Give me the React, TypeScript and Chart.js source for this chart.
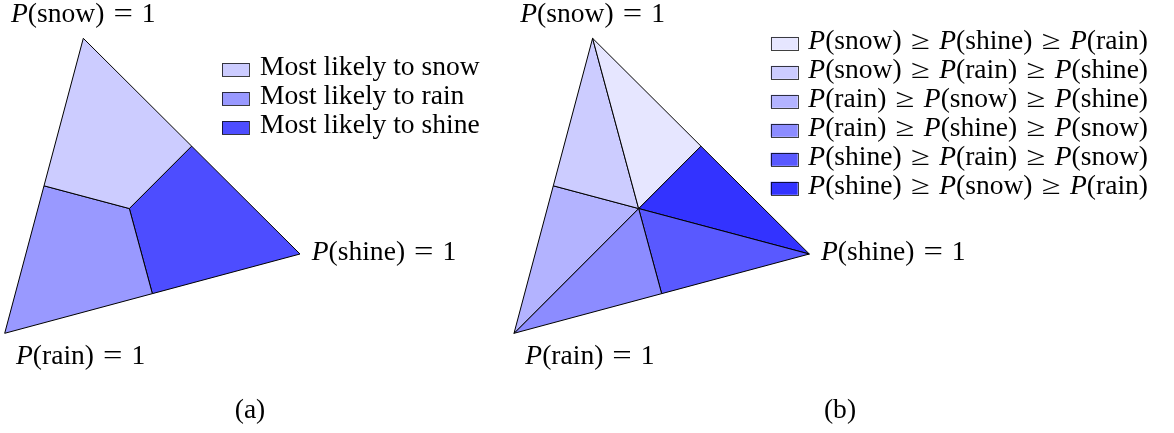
import React, { useEffect, useRef } from 'react';
import { Chart, registerables } from 'chart.js';

Chart.register(...registerables);

// Outcomes of the weather forecast; a point of the simplex is (P(snow), P(rain), P(shine)).
const outcomes = ['snow', 'rain', 'shine'];

// Barycentric corners used by the regions.
const cornerSnow = [1, 0, 0];
const cornerRain = [0, 1, 0];
const cornerShine = [0, 0, 1];
const midSnowShine = [1 / 2, 0, 1 / 2];
const midSnowRain = [1 / 2, 1 / 2, 0];
const midRainShine = [0, 1 / 2, 1 / 2];
const centre = [1 / 3, 1 / 3, 1 / 3];

// (a) regions of the most likely outcome
const argmaxLabels = ['Most likely to snow', 'Most likely to rain', 'Most likely to shine'];
const argmaxRegions = [
  [cornerSnow, midSnowShine, centre, midSnowRain],
  [cornerRain, midSnowRain, centre, midRainShine],
  [cornerShine, midRainShine, centre, midSnowShine],
];
const argmaxColors = ['#ccccff', '#9999ff', '#4d4dff'];

// (b) regions of each full ordering of the outcomes
const orderLabels = [
  'P(snow) ≥ P(shine) ≥ P(rain)',
  'P(snow) ≥ P(rain) ≥ P(shine)',
  'P(rain) ≥ P(snow) ≥ P(shine)',
  'P(rain) ≥ P(shine) ≥ P(snow)',
  'P(shine) ≥ P(rain) ≥ P(snow)',
  'P(shine) ≥ P(snow) ≥ P(rain)',
];
const orderRegions = [
  [cornerSnow, midSnowShine, centre],
  [cornerSnow, midSnowRain, centre],
  [cornerRain, midSnowRain, centre],
  [cornerRain, midRainShine, centre],
  [cornerShine, midRainShine, centre],
  [cornerShine, midSnowShine, centre],
];
const orderColors = ['#e6e6ff', '#ccccff', '#b3b3ff', '#8c8cff', '#5959ff', '#3333ff'];

// Labels at the corners of the simplex
const cornerLabels = ['P(snow) = 1', 'P(rain) = 1', 'P(shine) = 1'];
const captions = ['(a)', '(b)'];

// ---- layout (chart data space: x 0..1174, y 0..433 downward) ----
const WIDTH = 1174;
const HEIGHT = 433;
const SIMPLEX_CORNERS = [
  [83.3, 38.3], // snow
  [4.7, 333.3], // rain
  [300, 254], // shine
];
const PANEL_OFFSETS = [0, 509.3];
const CORNER_LABEL_PLACEMENT = [
  { dx: 0, dy: -16.6, align: 'center' },
  { dx: 11.3, dy: 31, align: 'left' },
  { dx: 11.7, dy: 6, align: 'left' },
];
const LEGENDS = [
  { swatchX: 222, textX: 260, firstY: 69.7 },
  { swatchX: 770.7, textX: 808.3, firstY: 43.3 },
];
const LEGEND_STEP = 29;
const SWATCH_W = 27;
const SWATCH_H = 13;
const CAPTION_X = [250, 840];
const CAPTION_BASELINE = 418;

const FONT_PX = 26.5;
const HSCALE = 1.04;
const FAMILY = "'Liberation Serif', 'Times New Roman', serif";
const OP_BOX = 1.36; // em width of a relation with its surrounding space
const OP_STRETCH = 1.25; // relations are drawn a little wider than the text face

function project(p: number[], panel: number) {
  let x = 0;
  let y = 0;
  for (let i = 0; i < outcomes.length; i++) {
    x += p[i] * SIMPLEX_CORNERS[i][0];
    y += p[i] * SIMPLEX_CORNERS[i][1];
  }
  return { x: x + PANEL_OFFSETS[panel], y };
}

function regionDataset(label: string, corners: number[][], color: string, panel: number) {
  const pts = corners.map((c) => project(c, panel));
  pts.push(pts[0]);
  return {
    label,
    data: pts,
    showLine: true,
    fill: 'shape',
    backgroundColor: color,
    borderColor: '#000',
    borderWidth: 1,
    borderJoinStyle: 'miter',
    pointRadius: 0,
    pointHoverRadius: 0,
    tension: 0,
    clip: false,
  };
}

type Run = { t: string; italic: boolean; w: number; pad: number; sx: number };

function fontFor(italic: boolean) {
  return `${italic ? 'italic ' : ''}${FONT_PX}px ${FAMILY}`;
}

function buildRuns(ctx: CanvasRenderingContext2D, text: string): Run[] {
  const measure = (t: string, italic: boolean) => {
    ctx.font = fontFor(italic);
    return ctx.measureText(t).width;
  };
  if (!/[=≥]/.test(text)) {
    return [{ t: text, italic: false, w: measure(text, false), pad: 0, sx: 1 }];
  }
  const runs: Run[] = [];
  for (const tok of text.split(' ')) {
    if (tok === '=' || tok === '≥') {
      const g = measure(tok, false) * OP_STRETCH;
      const box = Math.max(g, OP_BOX * FONT_PX);
      runs.push({ t: tok, italic: false, w: box, pad: (box - g) / 2, sx: OP_STRETCH });
    } else if (tok.startsWith('P(')) {
      runs.push({ t: 'P', italic: true, w: measure('P', true), pad: 0, sx: 1 });
      const rest = tok.slice(1);
      runs.push({ t: rest, italic: false, w: measure(rest, false), pad: 0, sx: 1 });
    } else {
      runs.push({ t: tok, italic: false, w: measure(tok, false), pad: 0, sx: 1 });
    }
  }
  return runs;
}

function drawText(ctx: CanvasRenderingContext2D, text: string, x: number, y: number, align: string) {
  const runs = buildRuns(ctx, text);
  const total = runs.reduce((s, r) => s + r.w, 0) * HSCALE;
  const startX = align === 'center' ? x - total / 2 : x;
  ctx.save();
  ctx.translate(startX, y);
  ctx.scale(HSCALE, 1);
  ctx.fillStyle = '#000';
  ctx.textAlign = 'left';
  ctx.textBaseline = 'alphabetic';
  let cx = 0;
  for (const r of runs) {
    ctx.font = fontFor(r.italic);
    ctx.save();
    ctx.translate(cx + r.pad, 0);
    ctx.scale(r.sx, 1);
    ctx.fillText(r.t, 0, 0);
    ctx.restore();
    cx += r.w;
  }
  ctx.restore();
}

const annotations = {
  id: 'simplexAnnotations',
  afterDraw(chart: any) {
    const ctx: CanvasRenderingContext2D = chart.ctx;
    const xs = chart.scales.x;
    const ys = chart.scales.y;
    const px = (x: number) => xs.getPixelForValue(x);
    const py = (y: number) => ys.getPixelForValue(y);

    const corners = [cornerSnow, cornerRain, cornerShine];
    PANEL_OFFSETS.forEach((_, panel) => {
      corners.forEach((c, i) => {
        const v = project(c, panel);
        const place = CORNER_LABEL_PLACEMENT[i];
        drawText(ctx, cornerLabels[i], px(v.x) + place.dx, py(v.y) + place.dy, place.align);
      });
    });

    const legendSets = [
      { labels: argmaxLabels, colors: argmaxColors },
      { labels: orderLabels, colors: orderColors },
    ];
    legendSets.forEach((set, k) => {
      const lg = LEGENDS[k];
      set.labels.forEach((label, i) => {
        const cy = lg.firstY + i * LEGEND_STEP;
        ctx.save();
        ctx.fillStyle = set.colors[i];
        ctx.fillRect(lg.swatchX, cy - SWATCH_H / 2, SWATCH_W, SWATCH_H);
        ctx.strokeStyle = 'rgba(0,0,0,0.75)';
        ctx.lineWidth = 1;
        ctx.strokeRect(Math.round(lg.swatchX) + 0.5, Math.round(cy - SWATCH_H / 2) + 0.5, SWATCH_W, SWATCH_H);
        ctx.restore();
        drawText(ctx, label, lg.textX, cy + 5.4, 'left');
      });
    });

    captions.forEach((c, i) => drawText(ctx, c, CAPTION_X[i], CAPTION_BASELINE, 'center'));
  },
};

export default function App() {
  const ref = useRef<HTMLCanvasElement>(null);

  useEffect(() => {
    const datasets = [
      ...argmaxRegions.map((r, i) => regionDataset(argmaxLabels[i], r, argmaxColors[i], 0)),
      ...orderRegions.map((r, i) => regionDataset(orderLabels[i], r, orderColors[i], 1)),
    ];
    const chart = new Chart(ref.current as HTMLCanvasElement, {
      type: 'scatter',
      data: { datasets } as any,
      options: {
        responsive: false,
        maintainAspectRatio: false,
        animation: false,
        devicePixelRatio: 1,
        layout: { padding: 0 },
        events: [],
        plugins: {
          legend: { display: false },
          tooltip: { enabled: false },
        },
        scales: {
          x: { type: 'linear', min: 0, max: WIDTH, display: false },
          y: { type: 'linear', min: 0, max: HEIGHT, reverse: true, display: false },
        },
      } as any,
      plugins: [annotations],
    });
    return () => chart.destroy();
  }, []);

  return (
    <div style={{ position: 'absolute', left: 0, top: 0, width: WIDTH, height: HEIGHT, background: '#fff' }}>
      <canvas ref={ref} width={WIDTH} height={HEIGHT} style={{ display: 'block' }} />
    </div>
  );
}
